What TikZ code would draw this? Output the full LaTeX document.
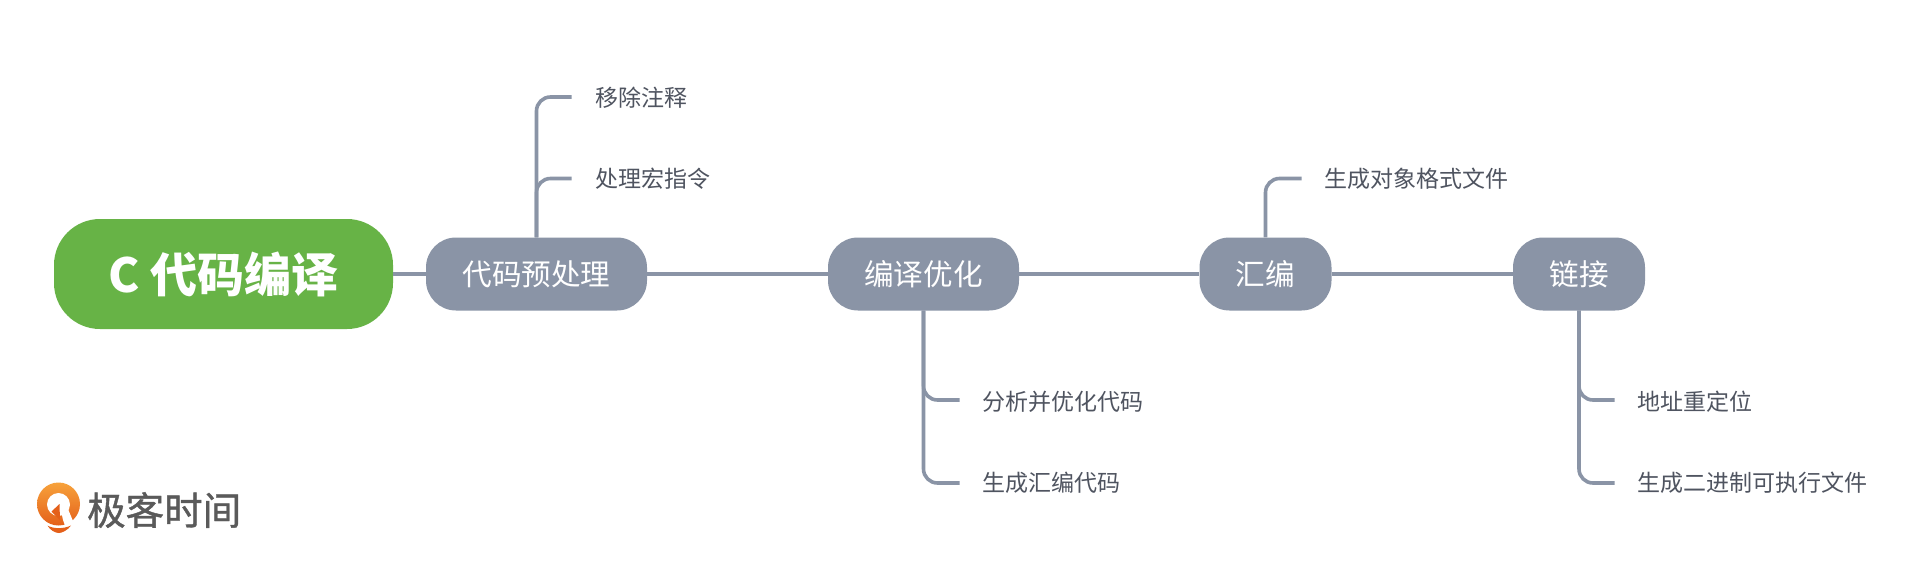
\documentclass[tikz,border=0pt]{standalone}
\usepackage{fontspec}
\setmainfont{Noto Sans CJK SC}
\newfontfamily\logofont{Noto Sans CJK SC}[FakeBold=1]
\usetikzlibrary{calc}
\definecolor{slatec}{HTML}{8A94A6}
\definecolor{greenc}{HTML}{67B346}
\definecolor{leaftext}{HTML}{4F5460}
\definecolor{logotext}{HTML}{5A5A5A}
\definecolor{orangeA}{HTML}{F7A23B}
\definecolor{orangeB}{HTML}{E4601A}
\tikzset{
  trunk/.style={draw=slatec,line width=3.6pt},
  branch/.style={draw=slatec,line width=3.6pt,rounded corners=14pt},
  rootbox/.style={fill=greenc,rounded corners=46pt,minimum width=339pt,minimum height=110pt,inner sep=0pt,text=white,font=\fontsize{47}{47}\selectfont\bfseries},
  stagebox/.style={fill=slatec,rounded corners=30pt,minimum height=73pt,inner sep=0pt,text=white,font=\fontsize{29.6}{29.6}\selectfont},
  leaf/.style={anchor=west,inner sep=0pt,text=leaftext,font=\fontsize{23}{23}\selectfont},
}
\begin{document}
\begin{tikzpicture}[x=1pt,y=-1pt]
\useasboundingbox (0,0) rectangle (1920,571);
\fill[white] (0,0) rectangle (1920,571);
% stage nodes
\node[rootbox] (root) at (223.5,274) {C 代码编译};
\node[stagebox,minimum width=221pt] (pre) at (536.5,274) {代码预处理};
\node[stagebox,minimum width=191pt] (opt) at (923.5,274) {编译优化};
\node[stagebox,minimum width=132pt] (asm) at (1265.5,274) {汇编};
\node[stagebox,minimum width=132pt] (lnk) at (1579,274) {链接};
% leaves
\node[leaf] (l1) at (595,98) {移除注释};
\node[leaf] (l2) at (595,178.5) {处理宏指令};
\node[leaf] (l3) at (982,402) {分析并优化代码};
\node[leaf] (l4) at (982,483) {生成汇编代码};
\node[leaf] (l5) at (1324,178.5) {生成对象格式文件};
\node[leaf] (l6) at (1637,402) {地址重定位};
\node[leaf] (l7) at (1637,483) {生成二进制可执行文件};
% connectors
\draw[trunk] (root) -- (pre);
\draw[trunk] (pre) -- (opt);
\draw[trunk] (opt) -- (asm);
\draw[trunk] (asm) -- (lnk);
\draw[branch] (pre.north) |- ([xshift=-23.5pt,yshift=1pt]l1.west);
\draw[branch] (pre.north) |- ([xshift=-23.5pt]l2.west);
\draw[branch] (opt.south) |- ([xshift=-22.5pt,yshift=2pt]l3.west);
\draw[branch] (opt.south) |- ([xshift=-22.5pt]l4.west);
\draw[branch] (asm.north) |- ([xshift=-22.5pt]l5.west);
\draw[branch] (lnk.south) |- ([xshift=-22.5pt,yshift=2pt]l6.west);
\draw[branch] (lnk.south) |- ([xshift=-22.5pt]l7.west);
% logo
\shade[top color=orangeA,bottom color=orangeB] (58.5,504) circle (21.5pt);
\fill[white] (58.5,504.5) circle (11.5pt);
\fill[orangeB] (59.5,504) -- (60,520) -- (51.5,511.5) -- cycle;
\fill[white] (61,510) -- (68,509) -- (73,521) -- (66,528) -- (63,520) -- cycle;
\fill[orangeB] (47.5,525.5) .. controls (53,529) and (64,529) .. (71,525.5) .. controls (68,530) and (62,533) .. (59,533) .. controls (55,533) and (50,530) .. (47.5,525.5) -- cycle;
\node[anchor=west,inner sep=0pt,text=logotext,font=\logofont\fontsize{38.5}{38.5}\selectfont] (logo) at (87,510) {极客时间};
\end{tikzpicture}
\end{document}
